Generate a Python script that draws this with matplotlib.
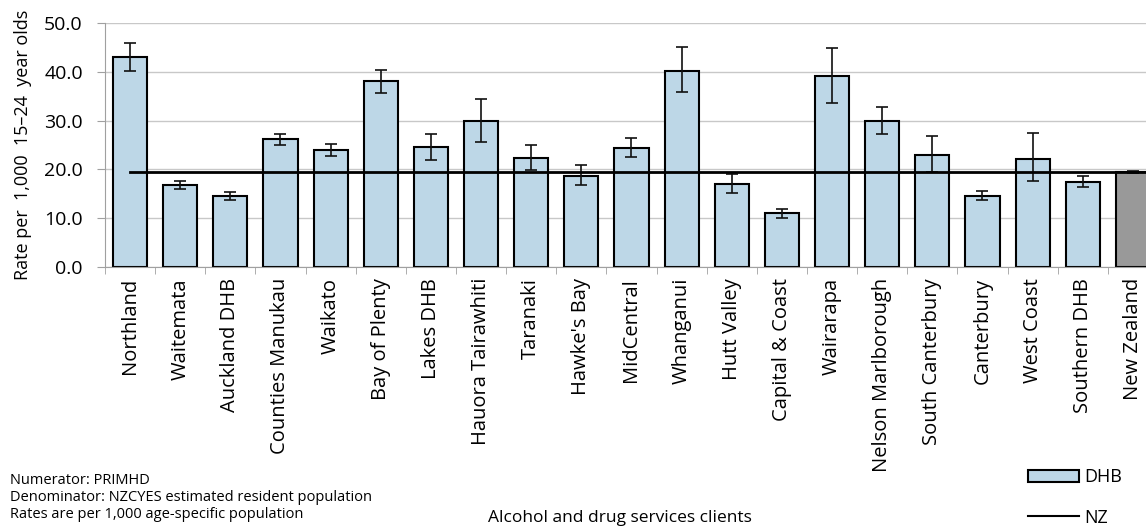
import matplotlib.pyplot as plt
from matplotlib.patches import Patch
from matplotlib.lines import Line2D
import numpy as np

plt.rcParams['font.family'] = ['Open Sans', 'DejaVu Sans']

# DHB rates per 1,000 aged 15-24, with 95% CI
categories = ["Northland", "Waitemata", "Auckland DHB", "Counties Manukau", "Waikato",
              "Bay of Plenty", "Lakes DHB", "Hauora Tairawhiti", "Taranaki", "Hawke's Bay",
              "MidCentral", "Whanganui", "Hutt Valley", "Capital & Coast", "Wairarapa",
              "Nelson Marlborough", "South Canterbury", "Canterbury", "West Coast",
              "Southern DHB", "New Zealand"]
rates = [43.0, 16.8, 14.6, 26.2, 23.9, 38.1, 24.5, 29.9, 22.4, 18.7,
         24.4, 40.2, 17.1, 11.1, 39.1, 30.0, 23.0, 14.6, 22.1, 17.4, 19.5]
ci_upper = [46.0, 17.7, 15.4, 27.3, 25.3, 40.4, 27.3, 34.4, 25.0, 20.8,
            26.5, 45.1, 19.0, 11.9, 44.9, 32.8, 26.9, 15.5, 27.4, 18.6, 19.7]
ci_lower = [40.2, 15.9, 13.7, 24.9, 22.7, 35.7, 21.9, 25.7, 19.9, 16.9,
            22.5, 35.9, 15.2, 10.0, 33.7, 27.3, 19.5, 13.7, 17.6, 16.3, 19.3]
nz_rate = 19.5

fig = plt.figure(figsize=(11.46, 5.26), dpi=100)
ax = fig.add_axes([105 / 1146, 1 - 267 / 526, 1053 / 1146, 244 / 526])

x = np.arange(len(categories))
colors = ['#BDD7E7'] * (len(categories) - 1) + ['#999999']
yerr = [np.array(rates) - np.array(ci_lower), np.array(ci_upper) - np.array(rates)]

ax.bar(x, rates, width=0.68, color=colors, edgecolor='black', linewidth=1.5, zorder=2)
ax.errorbar(x, rates, yerr=yerr, fmt='none', ecolor='#111111', elinewidth=1.2,
            capsize=4.3, capthick=1.2, zorder=3)
ax.plot([0, len(categories) - 0.5], [nz_rate, nz_rate], color='black', lw=2, zorder=4)

ax.set_xlim(-0.5, len(categories) - 0.5)
ax.set_ylim(0, 50)
ax.set_yticks(np.arange(0, 51, 10))
ax.set_yticklabels([f"{v:.1f}" for v in np.arange(0, 51, 10)], fontsize=14)
ax.yaxis.grid(True, color='#C8C8C8', lw=1)
ax.set_axisbelow(True)

ax.set_xticks(x)
ax.set_xticklabels(categories, rotation=90, fontsize=14.5, va='top')
ax.set_xticks(np.arange(-0.5, len(categories), 1), minor=True)
ax.tick_params(axis='x', which='major', length=0, pad=8)
ax.tick_params(axis='x', which='minor', length=5, color='#A0A0A0')
ax.tick_params(axis='y', length=6, color='#A0A0A0', pad=10)

for side in ['top', 'right']:
    ax.spines[side].set_visible(False)
ax.spines['left'].set_color('#A0A0A0')
ax.spines['bottom'].set_color('#A0A0A0')

ax.set_ylabel("Rate per  1,000  15\u201324  year olds", fontsize=13, labelpad=9)

fig.text(10 / 1146, 1 - 484 / 526, "Numerator: PRIMHD", fontsize=10.5, va='baseline')
fig.text(10 / 1146, 1 - 501 / 526, "Denominator: NZCYES estimated resident population",
         fontsize=10.5, va='baseline')
fig.text(10 / 1146, 1 - 518 / 526, "Rates are per 1,000 age-specific population",
         fontsize=10.5, va='baseline')
fig.text(620 / 1146, 1 - 522 / 526, "Alcohol and drug services clients", fontsize=12.5,
         ha='center', va='baseline')

handles = [Patch(facecolor='#BDD7E7', edgecolor='black', linewidth=1.5),
           Line2D([0], [0], color='black', lw=1.5)]
fig.legend(handles, ["DHB", "NZ"], loc='upper left',
           bbox_to_anchor=(1028 / 1146, 1 - 468 / 526), frameon=False, fontsize=13,
           handlelength=2.8, handleheight=0.66, handletextpad=0.3, labelspacing=1.25,
           borderaxespad=0, borderpad=0)

fig.savefig("out.png", dpi=100)
